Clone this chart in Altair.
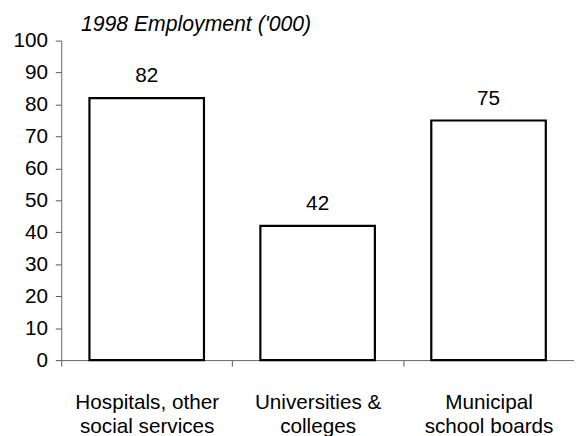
import altair as alt
import pandas as pd

categories = ["Hospitals, other|social services", "Universities &|colleges", "Municipal|school boards"]
values = [82, 42, 75]
title_text = "1998 Employment ('000)"

df = pd.DataFrame({"cat": categories, "val": values})
tdf = pd.DataFrame({"t": [title_text]})

FONT = "Liberation Sans"
FS = 21

x = alt.X("cat:N", sort=categories, title=None,
          scale=alt.Scale(paddingInner=0, paddingOuter=0),
          axis=alt.Axis(labelAngle=0, labelExpr="split(datum.label, '|')",
                        labelFontSize=FS, labelFont=FONT, labelColor="#000",
                        labelLineHeight=24, labelBaseline="alphabetic", labelPadding=43,
                        tickBand="extent", tickSize=6, tickColor="#555",
                        domainColor="#666", grid=False))
y = alt.Y("val:Q", title=None,
          scale=alt.Scale(domain=[0, 100], nice=False),
          axis=alt.Axis(values=list(range(0, 101, 10)), labelFontSize=FS, labelFont=FONT,
                        labelColor="#000", labelPadding=8, tickSize=6, tickColor="#555",
                        domainColor="#666", grid=False))

bars = alt.Chart(df).mark_bar(fill="white", stroke="black", strokeWidth=2.2,
                              width=alt.RelativeBandSize(0.67)).encode(x=x, y=y)
labels = alt.Chart(df).mark_text(baseline="alphabetic", dy=-16, fontSize=FS, font=FONT,
                                 color="#000").encode(x=x, y=y, text="val:Q")
title = alt.Chart(tdf).mark_text(align="left", baseline="alphabetic", fontSize=21.5, font=FONT,
                                 fontStyle="italic", color="#000").encode(
    x=alt.value(20), y=alt.value(-10), text="t:N")

chart = (bars + labels + title).properties(
    width=520, height=324,
    autosize=alt.AutoSizeParams(type="none"),
    padding={"left": 54, "top": 30, "right": 0, "bottom": 80},
).configure_view(stroke=None)

chart.save("out.html", embed_options={"renderer": "svg", "actions": False})
